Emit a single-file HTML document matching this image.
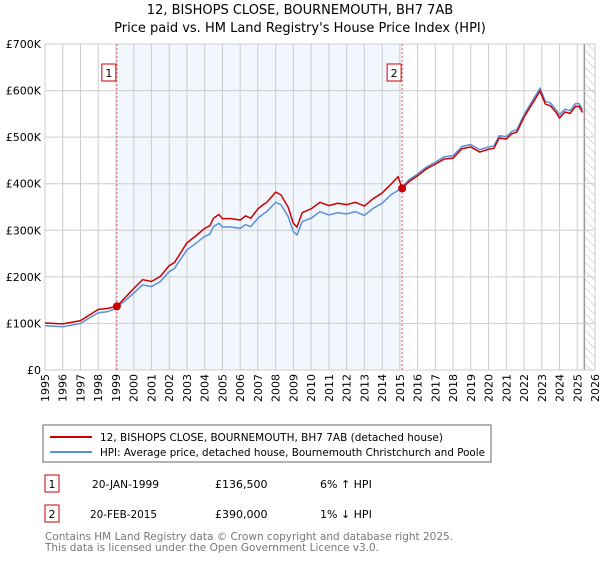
<!DOCTYPE html>
<html><head><meta charset="utf-8"><style>
body{margin:0;background:#fff;font-family:"DejaVu Sans","Liberation Sans",sans-serif;}
svg text{font-family:"DejaVu Sans","Liberation Sans",sans-serif;}
</style></head><body>
<svg id="c" width="600" height="560" viewBox="0 0 600 560">
<defs><pattern id="hatch" width="6" height="6" patternUnits="userSpaceOnUse" patternTransform="rotate(-45)"><line x1="0" y1="0" x2="0" y2="6" stroke="#bbb" stroke-width="1"/></pattern></defs>
<text x="300" y="14" text-anchor="middle" font-size="13">12, BISHOPS CLOSE, BOURNEMOUTH, BH7 7AB</text>
<text x="300" y="32" text-anchor="middle" font-size="13">Price paid vs. HM Land Registry's House Price Index (HPI)</text>
<g id="grid"></g><g id="series"></g>
<rect x="43" y="425" width="448" height="37" fill="#fff" stroke="#666"/>
<line x1="50" y1="437" x2="92" y2="437" stroke="#cc0000" stroke-width="2"/>
<text x="100" y="441" font-size="11" textLength="343" lengthAdjust="spacingAndGlyphs">12, BISHOPS CLOSE, BOURNEMOUTH, BH7 7AB (detached house)</text>
<line x1="50" y1="452" x2="92" y2="452" stroke="#5b8fd6" stroke-width="2"/>
<text x="100" y="456" font-size="11" textLength="385" lengthAdjust="spacingAndGlyphs">HPI: Average price, detached house, Bournemouth Christchurch and Poole</text>
<g>
<rect x="45" y="475" width="14" height="17" fill="#fff" stroke="#cc0000"/><text x="52" y="488" text-anchor="middle" font-size="11">1</text>
<text x="92" y="488" font-size="11" textLength="67" lengthAdjust="spacingAndGlyphs">20-JAN-1999</text><text x="215" y="488" font-size="11">£136,500</text><text x="320" y="488" font-size="11">6% ↑ HPI</text></g>
<g>
<rect x="45" y="505" width="14" height="17" fill="#fff" stroke="#cc0000"/><text x="52" y="518" text-anchor="middle" font-size="11">2</text>
<text x="90" y="518" font-size="11" textLength="67" lengthAdjust="spacingAndGlyphs">20-FEB-2015</text><text x="215" y="518" font-size="11">£390,000</text><text x="320" y="518" font-size="11">1% ↓ HPI</text></g>
<text x="45" y="540" font-size="11" fill="#777" textLength="408" lengthAdjust="spacingAndGlyphs">Contains HM Land Registry data © Crown copyright and database right 2025.</text>
<text x="45" y="551" font-size="11" fill="#777" textLength="334" lengthAdjust="spacingAndGlyphs">This data is licensed under the Open Government Licence v3.0.</text>
</svg>
<script>
const yTicks=[0,100,200,300,400,500,600,700];
const yTickLabels=["£0","£100K","£200K","£300K","£400K","£500K","£600K","£700K"];
const xYears=[1995,1996,1997,1998,1999,2000,2001,2002,2003,2004,2005,2006,2007,2008,2009,2010,2011,2012,2013,2014,2015,2016,2017,2018,2019,2020,2021,2022,2023,2024,2025,2026];
const hpiDates=[1995,1996,1997,1998,1998.5,1999,2000,2000.5,2001,2001.5,2002,2002.3,2003,2003.5,2004,2004.3,2004.5,2004.8,2005,2005.5,2006,2006.3,2006.6,2007,2007.3,2007.5,2008,2008.3,2008.7,2009,2009.2,2009.5,2010,2010.5,2011,2011.5,2012,2012.5,2013,2013.5,2014,2014.5,2015,2015.5,2016,2016.5,2017,2017.5,2018,2018.5,2019,2019.5,2020,2020.3,2020.6,2021,2021.3,2021.6,2022,2022.5,2022.9,2023.2,2023.5,2023.8,2024,2024.3,2024.6,2024.9,2025.1,2025.3];
const hpiValues=[95,93,100,123,125,132,165,183,179,190,211,218,258,272,287,292,308,315,307,307,304,312,308,326,335,340,360,355,330,297,290,319,326,340,333,338,335,340,332,347,358,376,388,408,421,436,446,458,460,480,484,473,479,481,503,501,512,516,548,580,605,577,573,559,548,560,557,572,572,559];
const priceDates=[1995,1996,1997,1998,1998.5,1999.05,2000,2000.5,2001,2001.5,2002,2002.3,2003,2003.5,2004,2004.3,2004.5,2004.8,2005,2005.5,2006,2006.3,2006.6,2007,2007.3,2007.5,2008,2008.3,2008.7,2009,2009.2,2009.5,2010,2010.5,2011,2011.5,2012,2012.5,2013,2013.5,2014,2014.5,2014.9,2015.13,2015.5,2016,2016.5,2017,2017.5,2018,2018.5,2019,2019.5,2020,2020.3,2020.6,2021,2021.3,2021.6,2022,2022.5,2022.9,2023.2,2023.5,2023.8,2024,2024.3,2024.6,2024.9,2025.1,2025.3];
const priceValues=[101,99,106,130,132,136.5,175,194,190,201,224,231,273,288,304,310,326,334,325,325,322,331,326,346,355,360,382,376,350,315,307,338,346,360,353,358,355,360,352,368,380,399,415,390,404,417,432,442,453,455,475,479,468,474,476,498,496,507,511,543,574,599,571,567,553,541,554,551,566,566,553];
const saleDates=[1999.05,2015.13];
const saleValues=[136.5,390];
const saleLabels=["1","2"];
const X0=45,X1=595,Y0=370,Y1=44;
const xs=y=>X0+(y-1995)/(2026-1995)*(X1-X0);
const ys=v=>Y0-v/700*(Y0-Y1);
const NS="http://www.w3.org/2000/svg";
function mk(p,t,a){const e=document.createElementNS(NS,t);for(const k in a)e.setAttribute(k,a[k]);p.appendChild(e);return e;}
const g=document.getElementById('grid'),s=document.getElementById('series');
let r=mk(g,'rect',{x:xs(saleDates[0]),y:Y1,width:xs(saleDates[1])-xs(saleDates[0]),height:Y0-Y1,fill:'#f2f6fd'});


let h=mk(g,'rect',{x:xs(2025.4),y:Y1,width:X1-xs(2025.4),height:Y0-Y1,fill:'url(#hatch)'});


mk(g,'line',{x1:xs(2025.4),x2:xs(2025.4),y1:Y1,y2:Y0,stroke:'#999','stroke-width':1.5});
xYears.forEach(y=>{mk(g,'line',{x1:xs(y),x2:xs(y),y1:Y1,y2:Y0,stroke:'#ccc'});
const t=mk(g,'text',{x:0,y:0,'font-size':11,'text-anchor':'end',transform:`translate(${xs(y)+4},${Y0+4}) rotate(-90)`});t.textContent=y;

});
yTicks.forEach((v,i)=>{mk(g,'line',{x1:X0,x2:X1,y1:ys(v),y2:ys(v),stroke:'#ccc'});
const t=mk(g,'text',{x:X0-4,y:ys(v)+4,'font-size':11,'text-anchor':'end'});t.textContent=yTickLabels[i];

});
mk(g,'rect',{x:X0,y:Y1,width:X1-X0,height:Y0-Y1,fill:'none',stroke:'#ccc'});
saleDates.forEach((d,i)=>{mk(s,'line',{x1:xs(d),x2:xs(d),y1:Y1,y2:Y0,stroke:'#e06060','stroke-dasharray':'2,2'});
const b=mk(s,'rect',{x:xs(d)-15,y:64,width:14,height:17,fill:'#fff',stroke:'#cc0000'});


const t=mk(s,'text',{x:xs(d)-8,y:77,'font-size':11,'text-anchor':'middle'});t.textContent=saleLabels[i];});
const hp=mk(s,'polyline',{points:hpiDates.map((d,i)=>xs(d)+','+ys(hpiValues[i])).join(' '),fill:'none',stroke:'#5b8fd6','stroke-width':1.5});


const pp=mk(s,'polyline',{points:priceDates.map((d,i)=>xs(d)+','+ys(priceValues[i])).join(' '),fill:'none',stroke:'#cc0000','stroke-width':1.5});


saleDates.forEach((d,i)=>{const c=mk(s,'circle',{cx:xs(d),cy:ys(saleValues[i]),r:4,fill:'#cc0000'});

});
</script>
</body></html>
